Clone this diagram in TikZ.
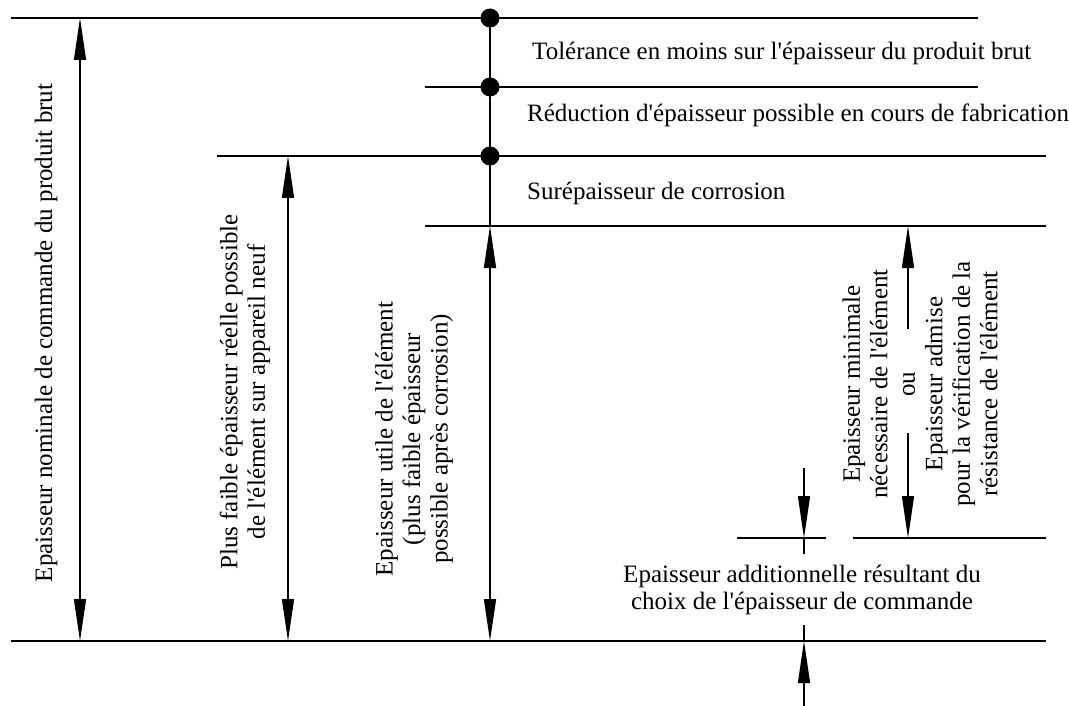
\documentclass[tikz,border=0pt]{standalone}
\usepackage{fontspec}
\setmainfont{Liberation Serif}[Ligatures=TeXOff]
\usetikzlibrary{arrows.meta}
\begin{document}
\begin{tikzpicture}[x=1pt,y=-1pt,
  ln/.style={line width=1.4pt},
  tipend/.style={ln,-{Triangle[length=42pt,width=12pt]}},
  dtip/.style={ln,{Triangle[length=42pt,width=12pt]}-{Triangle[length=42pt,width=12pt]}},
  dot/.style={circle,fill,inner sep=0pt,minimum size=19pt},
  lbl/.style={font=\fontsize{25}{27.5}\selectfont,inner sep=0pt},
  rlbl/.style={lbl,rotate=90,align=center}]
\useasboundingbox (0,0) rectangle (1069,706);
% horizontal reference lines
\coordinate (h1a) at (11,18);   \coordinate (h1b) at (978,18);
\coordinate (h2a) at (425,87);  \coordinate (h2b) at (978,87);
\coordinate (h3a) at (217,156); \coordinate (h3b) at (1046,156);
\coordinate (h4a) at (425,226); \coordinate (h4b) at (1046,226);
\coordinate (h5a) at (737,538); \coordinate (h5b) at (826,538);
\coordinate (h6a) at (853,538); \coordinate (h6b) at (1046,538);
\coordinate (h7a) at (11,641);  \coordinate (h7b) at (1046,641);
\foreach \a/\b in {h1a/h1b,h2a/h2b,h3a/h3b,h4a/h4b,h5a/h5b,h6a/h6b,h7a/h7b}
  \draw[ln] (\a) -- (\b);
% dots
\node[dot] (d1) at (490,18) {};
\node[dot] (d2) at (490,87) {};
\node[dot] (d3) at (490,156) {};
\coordinate (c4) at (490,226);
\draw[ln] (d1.center) -- (d2.center) -- (d3.center) -- (c4);
% dimension arrows
\coordinate (a1t) at (80,18);  \coordinate (a1b) at (80,641);
\coordinate (a2t) at (288,156); \coordinate (a2b) at (288,641);
\coordinate (a3b) at (490,641);
\draw[dtip] (a1t) -- (a1b);
\draw[dtip] (a2t) -- (a2b);
\draw[dtip] (c4) -- (a3b);
% right arrow with gap
\coordinate (a4t) at (908,226); \coordinate (a4u) at (908,329);
\coordinate (a4l) at (908,433); \coordinate (a4b) at (908,538);
\draw[tipend] (a4u) -- (a4t);
\draw[tipend] (a4l) -- (a4b);
% small arrows for additional thickness
\coordinate (s1) at (804,468); \coordinate (s2) at (804,538); \coordinate (s3) at (804,554);
\coordinate (s4) at (804,706); \coordinate (s5) at (804,641); \coordinate (s6) at (804,625);
\draw[tipend] (s1) -- (s2);
\draw[ln] (s2) -- (s3);
\draw[tipend] (s4) -- (s5);
\draw[ln] (s5) -- (s6);
% labels
\node[lbl,anchor=west] (t1) at (532,53) {Tolérance en moins sur l'épaisseur du produit brut};
\node[lbl,anchor=west] (t2) at (527,115) {Réduction d'épaisseur possible en cours de fabrication};
\node[lbl,anchor=west] (t3) at (527,193) {Surépaisseur de corrosion};
\node[rlbl] (r1) at (46,333) {Epaisseur nominale de commande du produit brut};
\node[rlbl] (r2) at (245,392) {Plus faible épaisseur réelle possible\\de l'élément sur appareil neuf};
\node[rlbl] (r3) at (414,439) {Epaisseur utile de l'élément\\(plus faible épaisseur\\possible après corrosion)};
\node[rlbl] (r4) at (920,384) {Epaisseur minimale\\nécessaire de l'élément\\ou\\Epaisseur admise\\pour la vérification de la\\résistance de l'élément};
\node[lbl,align=center] (b1) at (802,590) {Epaisseur additionnelle résultant du\\choix de l'épaisseur de commande};
\end{tikzpicture}
\end{document}
